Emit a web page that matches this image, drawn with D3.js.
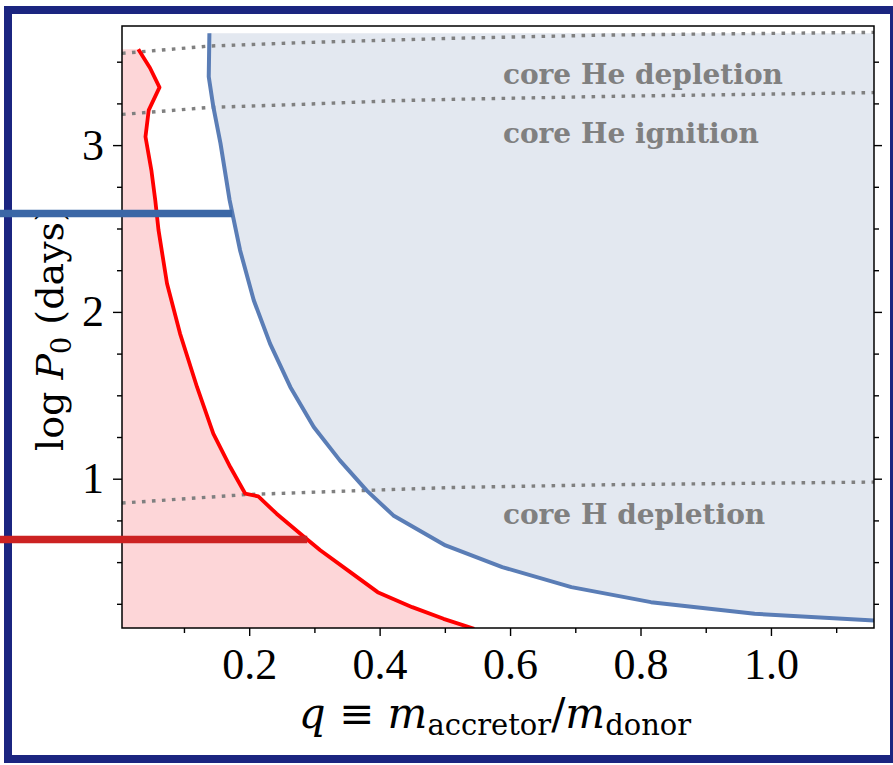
<!DOCTYPE html>
<html>
<head>
<meta charset="utf-8">
<script src="https://cdn.jsdelivr.net/npm/d3@7"></script>
<style>
  body { margin: 0; background: #fff; }
  svg { display: block; }
  text { white-space: pre; }
</style>
</head>
<body>
<div id="chart"></div>
<script>
// red boundary (q, log P0)
var redQ = [0.030, 0.048, 0.0625, 0.046, 0.041, 0.050, 0.056, 0.061, 0.074, 0.094, 0.120, 0.145, 0.171, 0.194, 0.214, 0.242, 0.278, 0.309, 0.355, 0.397, 0.450, 0.498, 0.545];
var redLogP = [3.574, 3.462, 3.346, 3.21, 3.05, 2.85, 2.67, 2.49, 2.17, 1.87, 1.55, 1.27, 1.07, 0.91, 0.894, 0.79, 0.672, 0.571, 0.44, 0.32, 0.23, 0.16, 0.10];

// blue boundary
var blueQ = [0.139, 0.138, 0.145, 0.156, 0.170, 0.186, 0.207, 0.232, 0.263, 0.299, 0.339, 0.380, 0.421, 0.501, 0.588, 0.694, 0.816, 0.975, 1.16];
var blueLogP = [3.67, 3.41, 3.23, 3.01, 2.67, 2.37, 2.07, 1.81, 1.55, 1.31, 1.11, 0.93, 0.78, 0.60, 0.47, 0.35, 0.26, 0.19, 0.15];

// dotted stage lines
var heDepQ = [0.005, 0.140, 0.278, 0.421, 0.508, 0.75, 1.16];
var heDepLogP = [3.550, 3.594, 3.614, 3.630, 3.640, 3.660, 3.676];
var heIgnQ = [0.005, 0.140, 0.278, 0.421, 0.508, 0.75, 1.16];
var heIgnLogP = [3.184, 3.226, 3.244, 3.266, 3.274, 3.292, 3.315];
var hDepQ = [0.005, 0.196, 0.380, 0.508, 0.75, 1.16];
var hDepLogP = [0.854, 0.905, 0.930, 0.947, 0.964, 0.980];

// stage labels
var stageNames = ["core He depletion", "core He ignition", "core H depletion"];
var stageQ = [0.589, 0.589, 0.589];
var stageLogP = [3.366, 3.012, 0.73];

// thick horizontal markers: log P0 and the q where they stop
var markerLogP = [2.59, 0.635];
var markerQ = [0.174, 0.289];
var markerColors = ["#3b67a6", "#cc2222"];

var xMajor = [0.2, 0.4, 0.6, 0.8, 1.0];
var xMinor = [0.1, 0.3, 0.5, 0.7, 0.9, 1.1];
var yMajor = [1, 2, 3];
var yMinor = [0.25, 0.5, 0.75, 1.25, 1.5, 1.75, 2.25, 2.5, 2.75, 3.25, 3.5];

var width = 893, height = 765;
var margin = { top: 26, right: 19, bottom: 137, left: 122 };

var x = d3.scaleLinear().domain([0.005, 1.158]).range([margin.left, width - margin.right]);
var y = d3.scaleLinear().domain([0.105, 3.714]).range([height - margin.bottom, margin.top]);

var svg = d3.select("#chart").append("svg")
  .attr("width", width)
  .attr("height", height);

// navy frame
svg.append("rect")
  .attr("x", 8).attr("y", 10)
  .attr("width", 886).attr("height", 749)
  .attr("fill", "none")
  .attr("stroke", "#1b2580")
  .attr("stroke-width", 8);

svg.append("clipPath").attr("id", "plot")
  .append("rect")
  .attr("x", x.range()[0]).attr("y", y.range()[1])
  .attr("width", x.range()[1] - x.range()[0])
  .attr("height", y.range()[0] - y.range()[1]);

var plot = svg.append("g").attr("clip-path", "url(#plot)");

var redPts = d3.zip(redQ, redLogP);
var bluePts = d3.zip(blueQ, blueLogP);

// shaded regions
plot.append("path")
  .datum(redPts)
  .attr("fill", "#fdd6d8")
  .attr("d", d3.area().y(d => y(d[1])).x0(x.range()[0]).x1(d => x(d[0])));

plot.append("path")
  .datum(bluePts)
  .attr("fill", "#e3e8f0")
  .attr("d", d3.area().y(d => y(d[1])).x0(d => x(d[0])).x1(x.range()[1]));

var line = d3.line().x(d => x(d[0])).y(d => y(d[1]));

[[heDepQ, heDepLogP], [heIgnQ, heIgnLogP], [hDepQ, hDepLogP]].forEach(function (s) {
  plot.append("path")
    .datum(d3.zip(s[0], s[1]))
    .attr("fill", "none")
    .attr("stroke", "#808080")
    .attr("stroke-width", 3.4)
    .attr("stroke-dasharray", "3.6,6.4")
    .attr("d", line);
});

plot.append("path")
  .datum(redPts)
  .attr("fill", "none")
  .attr("stroke", "#ff0000")
  .attr("stroke-width", 3.8)
  .attr("stroke-linejoin", "round")
  .attr("d", line);

plot.append("path")
  .datum(bluePts)
  .attr("fill", "none")
  .attr("stroke", "#5a7db6")
  .attr("stroke-width", 4)
  .attr("stroke-linejoin", "round")
  .attr("d", line);

// stage labels
svg.selectAll("text.stage")
  .data(stageNames)
  .enter().append("text")
  .attr("class", "stage")
  .attr("x", (d, i) => x(stageQ[i]))
  .attr("y", (d, i) => y(stageLogP[i]))
  .attr("font-family", "DejaVu Serif")
  .attr("font-weight", "bold")
  .attr("font-size", 28)
  .attr("fill", "#808080")
  .text(d => d);

// axes
function styleAxis(g) {
  g.select(".domain").remove();
  g.selectAll(".tick line").attr("stroke", "#000").attr("stroke-width", 1.4);
  g.selectAll("text")
    .attr("font-family", "Liberation Serif")
    .attr("font-size", 44)
    .attr("fill", "#000");
}

var bottom = y.range()[0], left = x.range()[0], right = x.range()[1];

svg.append("g").attr("transform", "translate(0," + bottom + ")")
  .call(d3.axisBottom(x).tickValues(xMajor).tickFormat(d3.format(".1f")).tickSize(8).tickPadding(12))
  .call(styleAxis);
svg.append("g").attr("transform", "translate(0," + bottom + ")")
  .call(d3.axisBottom(x).tickValues(xMinor).tickFormat("").tickSize(5))
  .call(styleAxis);

svg.append("g").attr("transform", "translate(" + left + ",0)")
  .call(d3.axisLeft(y).tickValues(yMajor).tickFormat(d3.format("d")).tickSize(9).tickPadding(9))
  .call(styleAxis);
svg.append("g").attr("transform", "translate(" + left + ",0)")
  .call(d3.axisLeft(y).tickValues(yMinor).tickFormat("").tickSize(5))
  .call(styleAxis);

svg.append("g").attr("transform", "translate(" + right + ",0)")
  .call(d3.axisRight(y).tickValues(yMajor).tickFormat("").tickSize(8))
  .call(styleAxis);
svg.append("g").attr("transform", "translate(" + right + ",0)")
  .call(d3.axisRight(y).tickValues(yMinor).tickFormat("").tickSize(5))
  .call(styleAxis);

// spines
svg.append("rect")
  .attr("x", left).attr("y", y.range()[1])
  .attr("width", right - left).attr("height", bottom - y.range()[1])
  .attr("fill", "none")
  .attr("stroke", "#000")
  .attr("stroke-width", 1.5);

// axis labels
var xl = svg.append("text")
  .attr("x", (left + right) / 2 - 3)
  .attr("y", 728)
  .attr("text-anchor", "middle")
  .attr("font-family", "DejaVu Serif")
  .attr("font-size", 42)
  .attr("fill", "#000");
xl.append("tspan").attr("font-style", "italic").text("q");
xl.append("tspan").text(" \u2261 ");
xl.append("tspan").attr("font-style", "italic").text("m");
xl.append("tspan").attr("font-size", 29).attr("dy", 7).text("accretor");
xl.append("tspan").attr("dy", -7).text("/");
xl.append("tspan").attr("font-style", "italic").text("m");
xl.append("tspan").attr("font-size", 29).attr("dy", 7).text("donor");

var yl = svg.append("text")
  .attr("transform", "translate(63," + ((y.range()[0] + y.range()[1]) / 2 + 2) + ") rotate(-90)")
  .attr("text-anchor", "middle")
  .attr("font-family", "DejaVu Serif")
  .attr("font-size", 38)
  .attr("fill", "#000");
yl.append("tspan").text("log ");
yl.append("tspan").attr("font-style", "italic").text("P");
yl.append("tspan").attr("font-size", 27).attr("dy", 8).text("0");
yl.append("tspan").attr("dy", -8).text(" (days)");

// thick markers, running in from the page edge
svg.selectAll("line.marker")
  .data(markerLogP)
  .enter().append("line")
  .attr("class", "marker")
  .attr("x1", 0)
  .attr("x2", (d, i) => x(markerQ[i]))
  .attr("y1", d => y(d))
  .attr("y2", d => y(d))
  .attr("stroke", (d, i) => markerColors[i])
  .attr("stroke-width", 7.5);
</script>
</body>
</html>
